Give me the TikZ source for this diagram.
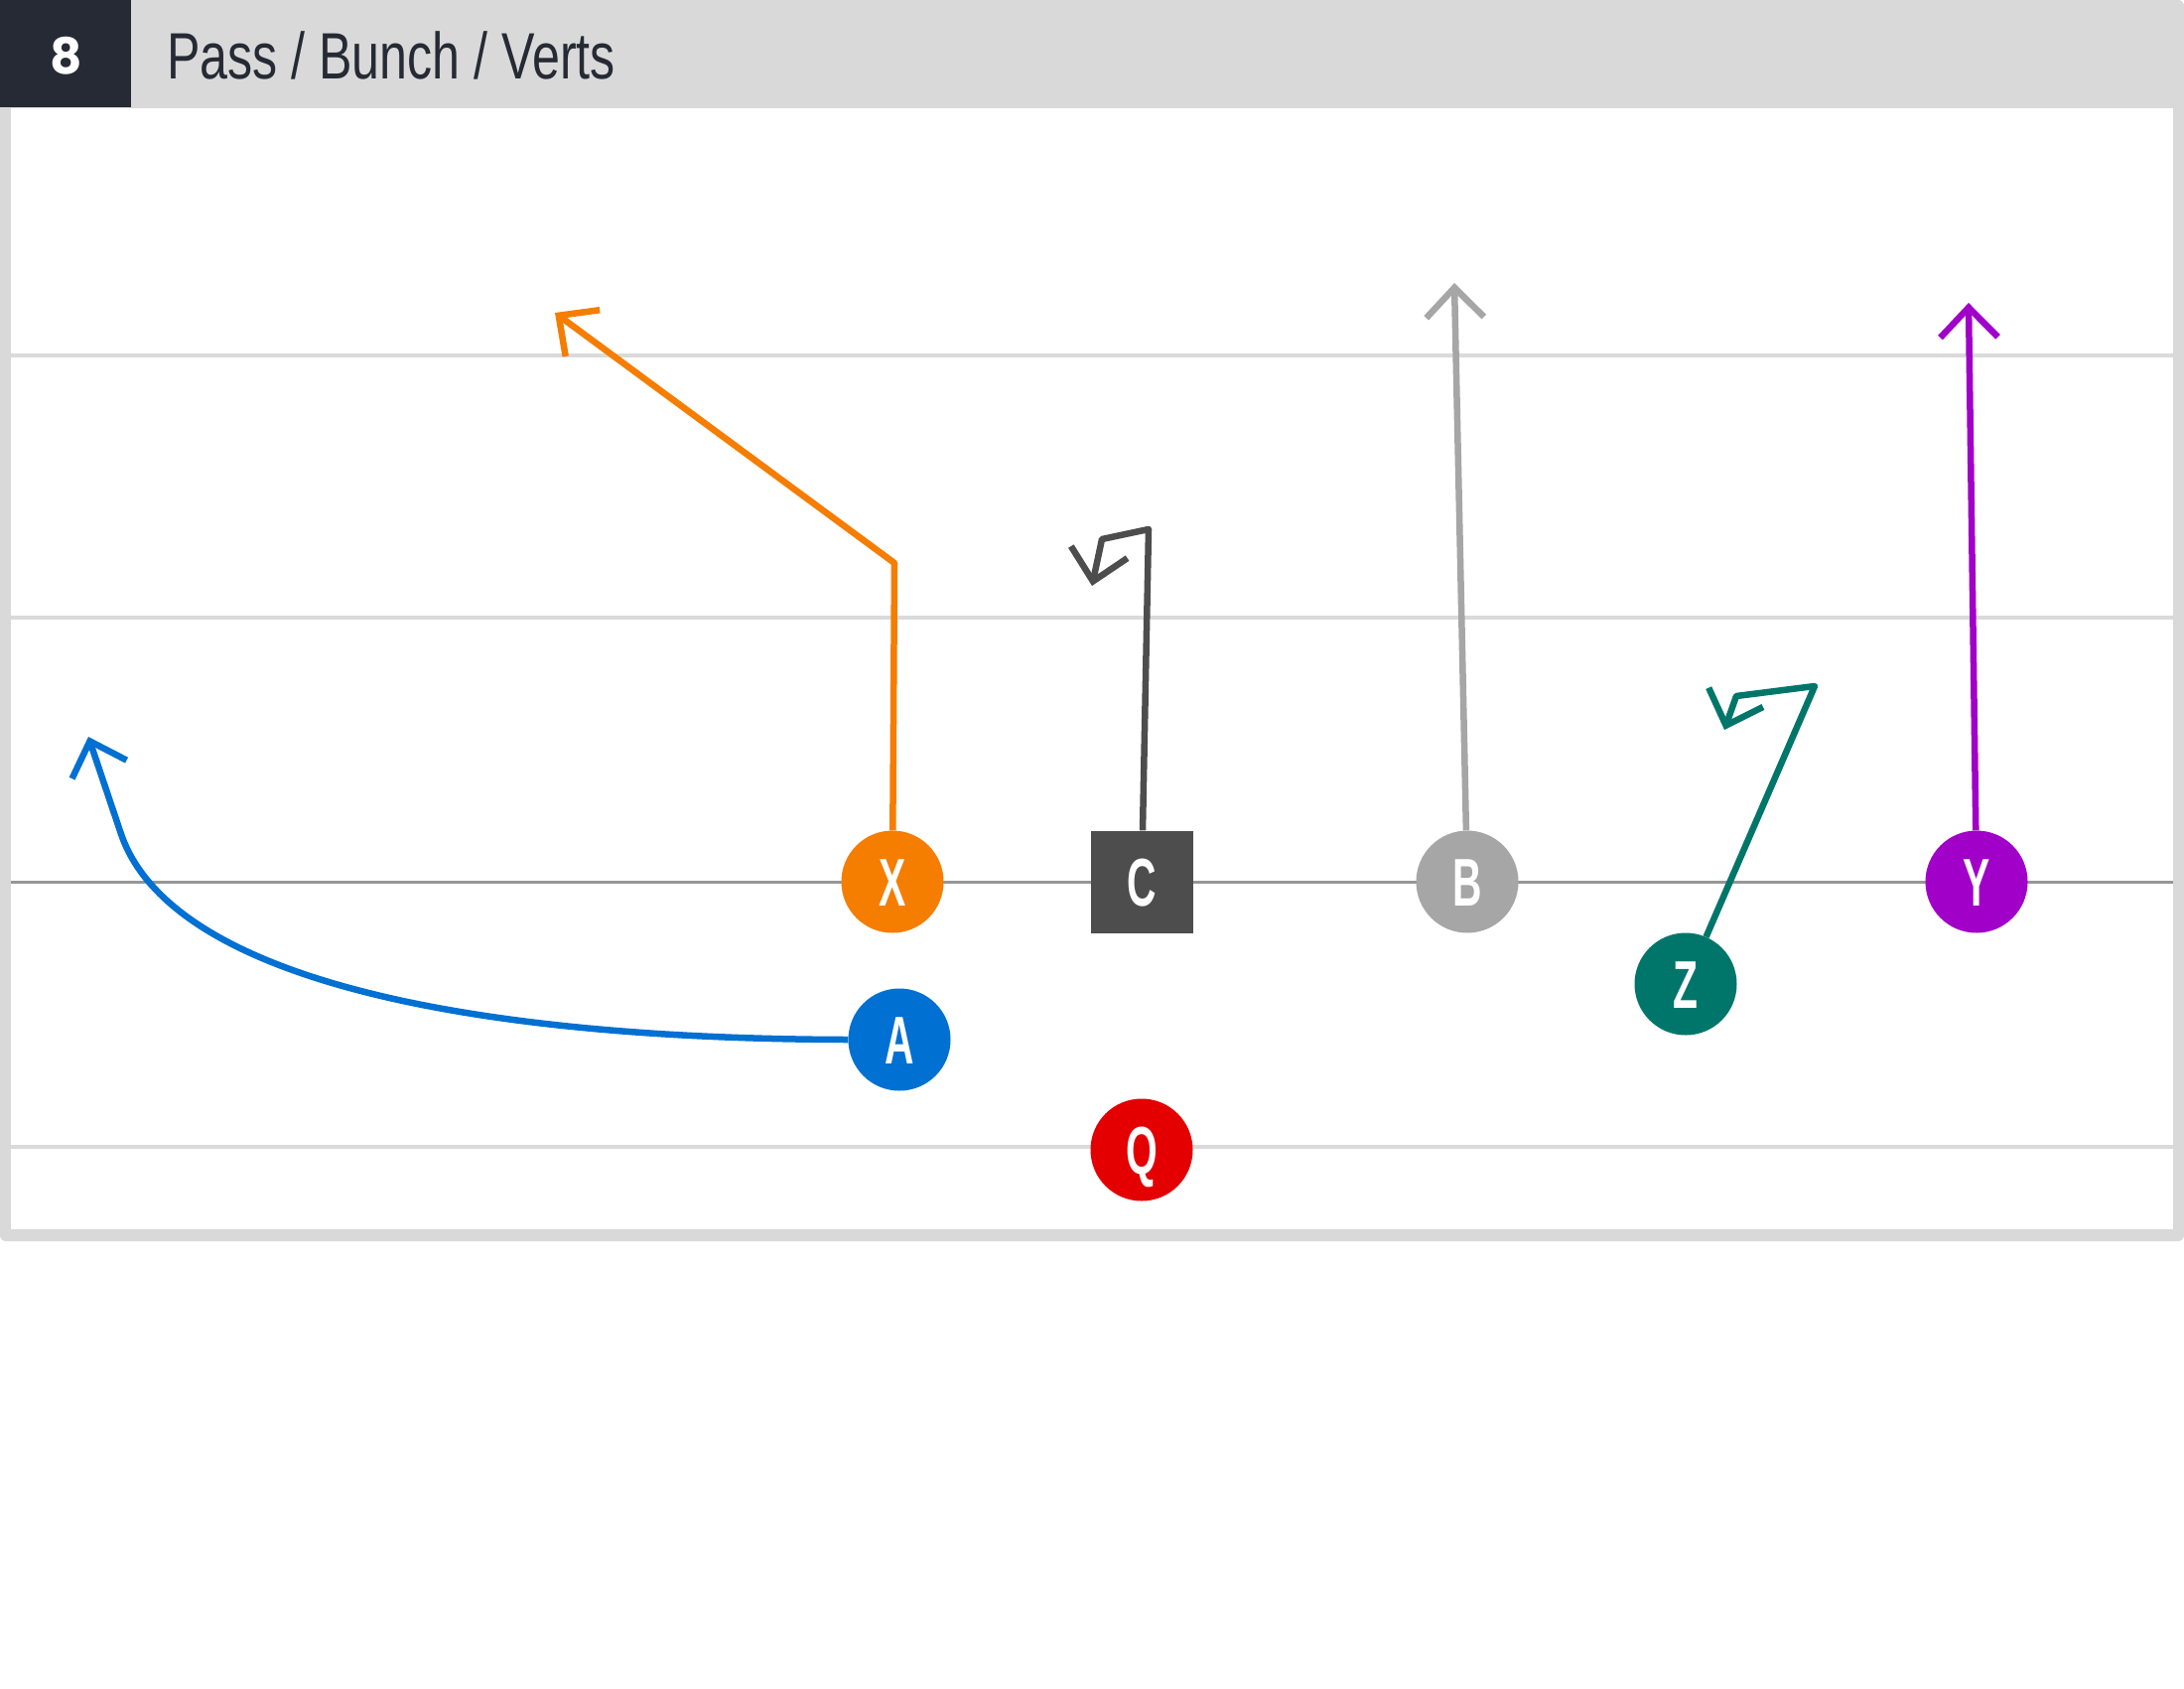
\documentclass[tikz,border=0pt]{standalone}
\usepackage{fontspec}
\usetikzlibrary{arrows.meta}
\newfontfamily\titlefont[FakeStretch=0.76]{Liberation Sans}
\newfontfamily\plfont[FakeStretch=0.6]{Liberation Sans}
\newfontfamily\numfont{Poppins}
\definecolor{hdrgray}{RGB}{217,217,217}
\definecolor{hdrdark}{RGB}{37,42,52}
\definecolor{fieldline}{RGB}{218,218,218}
\definecolor{losline}{RGB}{150,150,150}
\definecolor{cX}{RGB}{245,125,0}
\definecolor{cA}{RGB}{0,112,210}
\definecolor{cQ}{RGB}{228,0,0}
\definecolor{cC}{RGB}{77,77,77}
\definecolor{cB}{RGB}{166,166,166}
\definecolor{cZ}{RGB}{0,118,106}
\definecolor{cY}{RGB}{160,0,200}
\begin{document}
\begin{tikzpicture}[x=1pt,y=-1pt,
  player/.style={circle, fill=#1, minimum size=103pt, inner sep=0pt, text=white,
    text height=49pt, text depth=0pt,
    font=\plfont\bfseries\fontsize{68}{68}\selectfont},
  cbox/.style={rectangle, fill=#1, minimum size=103pt, inner sep=0pt, text=white,
    text height=49pt, text depth=0pt,
    font=\plfont\bfseries\fontsize{68}{68}\selectfont},
  route/.style={draw=#1, line width=6.5pt, line join=round,
    -{Straight Barb[length=30pt,width=58pt]}},
  fline/.style={draw=fieldline, line width=3.5pt},
  losl/.style={draw=losline, line width=3pt}
]
\useasboundingbox (0,0) rectangle (2200,1700);
\fill[white] (0,0) rectangle (2200,1700);
% frame
\fill[hdrgray, rounded corners=6pt] (0,0) rectangle (2200,1250);
\fill[white] (11,109) rectangle (2189,1238);
\fill[hdrdark] (0,0) rectangle (132,108);
\node[text=white, font=\numfont\bfseries\fontsize{50}{50}\selectfont, inner sep=0pt, anchor=base] (num) at (66.5,74) {8};
\node[text=hdrdark, font=\titlefont\fontsize{66}{66}\selectfont, inner sep=0pt, anchor=base west] (title) at (168,79) {Pass / Bunch / Verts};
% field lines
\coordinate (l1a) at (11,358); \coordinate (l1b) at (2189,358);
\coordinate (l2a) at (11,622); \coordinate (l2b) at (2189,622);
\coordinate (l3a) at (11,888); \coordinate (l3b) at (2189,888);
\coordinate (l4a) at (11,1155); \coordinate (l4b) at (2189,1155);
\draw[fline] (l1a) -- (l1b);
\draw[fline] (l2a) -- (l2b);
\draw[losl] (l3a) -- (l3b);
\draw[fline] (l4a) -- (l4b);
% players
\node[player=cX] (X) at (899,888) {X};
\node[cbox=cC] (C) at (1150,888) {C};
\node[player=cB] (B) at (1478,888) {B};
\node[player=cY] (Y) at (1991,888) {Y};
\node[player=cZ] (Z) at (1698,991) {Z};
\node[player=cA] (A) at (906,1047) {A};
\node[player=cQ] (Q) at (1150,1158) {Q};
% route points
\coordinate (x1) at (901,567);
\coordinate (x2) at (559,315);
\coordinate (c1) at (1157,533);
\coordinate (c2) at (1110,543);
\coordinate (c3) at (1100,590);
\coordinate (b1) at (1465,285);
\coordinate (y1) at (1983,305);
\coordinate (z1) at (1828,691);
\coordinate (z2) at (1749,701);
\coordinate (z3) at (1737,735);
\coordinate (a1) at (122,840);
\coordinate (a2) at (89,742);
% routes
\draw[route=cX] (X) -- (x1) -- (x2);
\draw[route=cC] (C) -- (c1) -- (c2) -- (c3);
\draw[route=cB] (B) -- (b1);
\draw[route=cY] (Y) -- (y1);
\draw[route=cZ] (Z) -- (z1) -- (z2) -- (z3);
\draw[route=cA] (A.west) .. controls (450,1046) and (170,980) .. (a1) -- (a2);
\end{tikzpicture}
\end{document}
